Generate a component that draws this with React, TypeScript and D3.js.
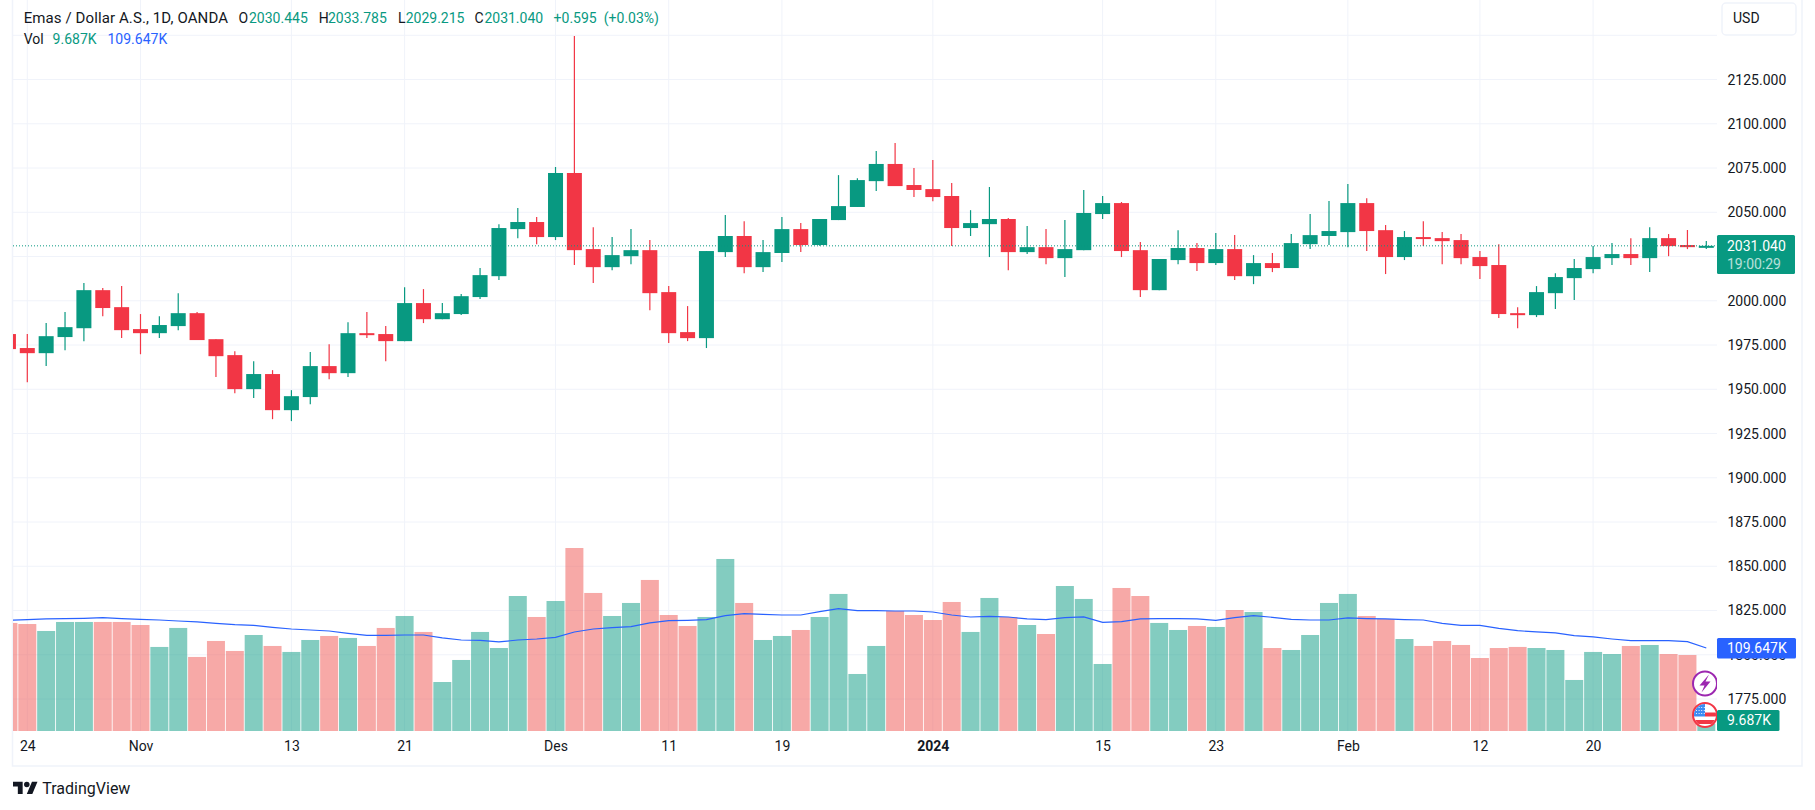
import { useEffect, useRef } from 'react'
import * as d3 from 'd3'

const opens = [1981.2, 1973.3, 1970.4, 1979.5, 1984.5, 2006.0, 1996.4, 1984.0, 1981.7, 1985.7, 1993.0, 1978.3, 1969.3, 1950.1, 1958.6, 1938.2, 1945.6, 1963.1, 1959.1, 1981.7, 1981.2, 1977.2, 1998.7, 1989.6, 1992.5, 2002.1, 2013.9, 2040.5, 2044.5, 2036.0, 2072.2, 2029.2, 2019.0, 2025.2, 2028.6, 2004.9, 1982.3, 1978.9, 2027.5, 2036.6, 2019.0, 2027.0, 2040.5, 2031.5, 2045.6, 2053.0, 2067.6, 2077.3, 2065.4, 2063.1, 2059.2, 2041.1, 2043.3, 2046.2, 2027.5, 2030.3, 2024.1, 2028.6, 2049.0, 2055.2, 2028.6, 2006.0, 2023.0, 2029.8, 2021.3, 2029.2, 2013.9, 2021.3, 2018.5, 2032.0, 2036.6, 2038.8, 2055.2, 2039.9, 2024.7, 2036.0, 2035.4, 2034.3, 2024.7, 2020.2, 1993.0, 1991.9, 2004.3, 2012.8, 2017.9, 2024.1, 2026.4, 2024.1, 2035.4, 2031.5, 2030.445]
const highs = [1983.0, 1981.2, 1987.4, 1993.6, 2010.0, 2007.2, 2008.3, 1992.5, 1991.3, 2004.3, 1993.6, 1978.3, 1971.5, 1965.9, 1960.8, 1949.5, 1971.0, 1975.5, 1987.9, 1993.6, 1985.7, 2007.7, 2006.6, 1998.7, 2003.8, 2018.5, 2043.3, 2052.4, 2047.3, 2075.6, 2149.6, 2041.6, 2036.0, 2040.5, 2034.3, 2008.3, 1997.0, 2028.1, 2048.4, 2045.0, 2034.3, 2047.3, 2043.9, 2046.2, 2071.0, 2069.3, 2084.6, 2089.1, 2075.0, 2079.5, 2066.5, 2051.2, 2064.3, 2046.8, 2042.2, 2040.5, 2045.6, 2062.6, 2059.2, 2055.8, 2033.2, 2023.6, 2039.9, 2032.6, 2038.3, 2037.1, 2025.8, 2027.0, 2037.7, 2049.0, 2056.4, 2066.0, 2058.0, 2042.8, 2039.4, 2045.0, 2038.8, 2037.7, 2028.1, 2032.0, 1996.4, 2008.3, 2015.6, 2023.6, 2030.9, 2032.6, 2035.4, 2041.6, 2037.7, 2040.0, 2033.785]
const lows = [1970.0, 1954.0, 1963.1, 1972.1, 1977.2, 1991.3, 1978.9, 1969.8, 1978.9, 1983.4, 1977.8, 1956.9, 1947.8, 1945.0, 1933.1, 1932.0, 1941.6, 1955.7, 1956.9, 1978.9, 1965.9, 1977.2, 1987.4, 1989.6, 1991.9, 2001.0, 2011.7, 2035.4, 2032.0, 2034.3, 2020.2, 2010.0, 2017.3, 2020.7, 1994.7, 1976.1, 1977.2, 1973.3, 2024.7, 2015.6, 2016.2, 2021.9, 2027.5, 2031.1, 2045.6, 2053.0, 2062.0, 2064.8, 2058.6, 2056.3, 2030.9, 2036.6, 2024.7, 2017.3, 2026.4, 2020.7, 2013.4, 2028.6, 2046.2, 2024.7, 2002.1, 2006.0, 2020.7, 2016.8, 2020.2, 2011.7, 2009.4, 2016.2, 2018.5, 2029.2, 2031.5, 2030.3, 2028.1, 2015.1, 2023.0, 2030.9, 2020.7, 2020.7, 2012.3, 1990.2, 1984.5, 1990.8, 1995.3, 2000.4, 2015.6, 2020.2, 2020.2, 2016.2, 2025.2, 2029.2, 2029.215]
const closes = [1972.7, 1970.4, 1980.0, 1985.1, 2006.0, 1995.9, 1983.4, 1981.7, 1986.3, 1993.0, 1977.8, 1968.7, 1950.1, 1958.6, 1938.2, 1946.1, 1963.1, 1959.1, 1981.7, 1980.6, 1977.2, 1998.7, 1989.6, 1993.0, 2002.6, 2014.5, 2041.1, 2044.5, 2036.0, 2072.2, 2028.6, 2019.0, 2025.8, 2028.6, 2004.3, 1981.7, 1978.9, 2028.1, 2036.6, 2019.0, 2027.5, 2040.5, 2031.5, 2046.2, 2053.5, 2068.2, 2077.3, 2064.8, 2062.6, 2058.6, 2041.1, 2043.9, 2046.2, 2027.5, 2030.3, 2024.1, 2029.2, 2049.6, 2055.2, 2028.1, 2006.0, 2023.6, 2029.8, 2021.3, 2029.2, 2013.9, 2021.3, 2018.5, 2032.6, 2037.1, 2039.4, 2055.2, 2039.4, 2024.7, 2036.0, 2034.9, 2033.7, 2024.1, 2019.6, 1992.5, 1991.9, 2004.9, 2013.4, 2018.5, 2024.7, 2026.4, 2024.1, 2035.4, 2030.9, 2030.3, 2031.04]

// volume and its moving average, in thousands
const volumes = [142.7, 141.3, 132.1, 144.0, 144.0, 144.0, 144.0, 140.0, 111.0, 136.1, 97.8, 118.9, 105.7, 126.8, 112.3, 104.4, 120.2, 125.5, 122.9, 112.3, 136.1, 151.9, 130.8, 64.7, 93.8, 130.8, 109.6, 178.3, 150.6, 171.7, 241.7, 182.3, 151.9, 169.1, 199.5, 153.2, 138.7, 150.6, 227.2, 169.1, 120.2, 125.5, 133.4, 150.6, 181.0, 75.3, 112.3, 158.5, 153.2, 146.6, 170.4, 130.8, 175.7, 150.6, 140.0, 128.1, 191.5, 174.4, 88.5, 188.9, 178.3, 142.7, 133.4, 138.7, 137.4, 159.8, 157.2, 109.6, 107.0, 126.8, 169.1, 181.0, 151.9, 148.0, 121.5, 112.3, 118.9, 113.6, 96.4, 109.6, 111.0, 109.6, 107.0, 67.4, 104.4, 101.7, 112.3, 113.6, 101.7, 100.4, 9.687]
const volumeMa = [146.2, 147.1, 148.0, 148.4, 148.8, 149.7, 148.4, 147.5, 146.6, 145.3, 144.0, 142.2, 140.5, 139.6, 136.9, 134.7, 133.4, 132.1, 129.0, 126.4, 126.4, 126.8, 126.8, 122.9, 120.2, 119.8, 117.6, 120.2, 121.5, 123.7, 130.8, 134.7, 136.5, 137.8, 142.7, 145.8, 146.2, 147.1, 152.4, 155.0, 154.1, 153.2, 153.2, 157.6, 161.6, 159.0, 159.0, 158.5, 158.5, 157.2, 153.2, 150.6, 151.5, 150.6, 148.0, 147.1, 149.7, 150.6, 143.5, 144.4, 148.0, 148.4, 148.4, 148.0, 146.2, 149.7, 152.4, 150.2, 147.5, 146.6, 146.6, 149.3, 148.4, 148.0, 147.1, 146.6, 142.2, 139.6, 139.6, 135.6, 132.5, 130.8, 129.5, 125.9, 124.2, 121.5, 119.3, 119.3, 119.3, 118.0, 109.647]

// 2025 sits wholly behind the last price label, so it only gets a grid line
const priceTicks = [2125, 2100, 2075, 2050, 2000, 1975, 1950, 1925, 1900, 1875, 1850, 1825, 1800, 1775]
const gridPrices = [2150, 2125, 2100, 2075, 2050, 2025, 2000, 1975, 1950, 1925, 1900, 1875, 1850, 1825, 1800, 1775]
const timeIndex = [1, 7, 15, 21, 29, 35, 41, 49, 58, 64, 71, 78, 84]
const timeLabels = ['24', 'Nov', '13', '21', 'Des', '11', '19', '2024', '15', '23', 'Feb', '12', '20']

const lastPrice = 2031.04
const green = '#089981'
const red = '#f23645'
const blue = '#2962ff'
const gridColor = '#f0f3fa'
const textColor = '#131722'
const font = 'Roboto, sans-serif'

const paneLeft = 13
const paneRight = 1717
const paneBottom = 731

export default function App() {
  const svgRef = useRef<SVGSVGElement>(null)

  useEffect(() => {
    if (!svgRef.current) return
    const svg = d3.select(svgRef.current)
    svg.selectAll('*').remove()

    const x = d3.scaleLinear().domain([1, 90]).range([27.3, 1706.3])
    const y = d3.scaleLinear().domain([2150, 1775]).range([35.3, 699])
    const yVol = d3.scaleLinear().domain([0, 241.7]).range([paneBottom, 548])

    const defs = svg.append('defs')
    defs.append('clipPath').attr('id', 'pane')
      .append('rect')
      .attr('x', paneLeft).attr('y', 0)
      .attr('width', paneRight - paneLeft).attr('height', paneBottom)
    defs.append('clipPath').attr('id', 'flag')
      .append('circle').attr('cx', 1705).attr('cy', 715).attr('r', 11)

    // Grid
    const grid = svg.append('g').attr('clip-path', 'url(#pane)')
    grid.selectAll('line.h').data(gridPrices).join('line')
      .attr('class', 'h')
      .attr('x1', paneLeft).attr('x2', paneRight)
      .attr('y1', d => y(d)).attr('y2', d => y(d))
      .attr('stroke', gridColor).attr('stroke-width', 1)
    grid.selectAll('line.v').data(timeIndex).join('line')
      .attr('class', 'v')
      .attr('x1', d => x(d)).attr('x2', d => x(d))
      .attr('y1', 0).attr('y2', paneBottom)
      .attr('stroke', gridColor).attr('stroke-width', 1)

    // Frame
    svg.append('path')
      .attr('d', `M${paneLeft - 0.5},0V766H1802V0`)
      .attr('fill', 'none')
      .attr('stroke', gridColor)
      .attr('stroke-width', 1.5)

    const pane = svg.append('g').attr('clip-path', 'url(#pane)')

    // Volume bars
    pane.selectAll('rect.vol').data(volumes).join('rect')
      .attr('class', 'vol')
      .attr('x', (_, i) => x(i) - 9)
      .attr('width', 18)
      .attr('y', d => yVol(d))
      .attr('height', d => paneBottom - yVol(d))
      .attr('fill', (_, i) => (closes[i] >= opens[i] ? green : '#ef5350'))
      .attr('opacity', 0.5)

    // Wicks and bodies
    pane.selectAll('line.wick').data(highs).join('line')
      .attr('class', 'wick')
      .attr('x1', (_, i) => x(i)).attr('x2', (_, i) => x(i))
      .attr('y1', d => y(d)).attr('y2', (_, i) => y(lows[i]))
      .attr('stroke', (_, i) => (closes[i] >= opens[i] ? green : red))
      .attr('stroke-width', 1.2)
    pane.selectAll('rect.body').data(opens).join('rect')
      .attr('class', 'body')
      .attr('x', (_, i) => x(i) - 7.5)
      .attr('width', 15)
      .attr('y', (d, i) => y(Math.max(d, closes[i])))
      .attr('height', (d, i) => Math.max(2, Math.abs(y(d) - y(closes[i]))))
      .attr('fill', (_, i) => (closes[i] >= opens[i] ? green : red))

    // Volume moving average
    const maLine = d3.line<number>()
      .x((_, i) => x(i))
      .y(d => yVol(d))
    pane.append('path')
      .datum(volumeMa)
      .attr('d', maLine)
      .attr('fill', 'none')
      .attr('stroke', blue)
      .attr('stroke-width', 1.2)

    // Last price line
    pane.append('line')
      .attr('x1', paneLeft).attr('x2', paneRight)
      .attr('y1', y(lastPrice)).attr('y2', y(lastPrice))
      .attr('stroke', green)
      .attr('stroke-width', 1)
      .attr('stroke-dasharray', '1 2')

    // Event icons
    const bolt = pane.append('g')
    bolt.append('circle')
      .attr('cx', 1705).attr('cy', 683.5).attr('r', 12)
      .attr('fill', '#fff').attr('stroke', '#9c27b0').attr('stroke-width', 2)
    bolt.append('path')
      .attr('d', 'M1709,674.5L1699.5,685.5H1704.5L1701.5,692.5L1710.5,681.5H1705.5Z')
      .attr('fill', '#9c27b0')

    const flag = pane.append('g')
    flag.append('circle')
      .attr('cx', 1705).attr('cy', 715).attr('r', 12)
      .attr('fill', '#fff').attr('stroke', red).attr('stroke-width', 2)
    const flagInner = flag.append('g').attr('clip-path', 'url(#flag)')
    flagInner.append('rect').attr('x', 1694).attr('y', 720).attr('width', 22).attr('height', 4).attr('fill', red)
    flagInner.append('rect').attr('x', 1705).attr('y', 712.5).attr('width', 11).attr('height', 4).attr('fill', red)
    flagInner.append('rect').attr('x', 1694).attr('y', 704).attr('width', 11).attr('height', 12.5).attr('fill', '#3d8bf2')
    flagInner.selectAll('circle.star').data(d3.range(12)).join('circle')
      .attr('class', 'star')
      .attr('cx', d => 1696.5 + (d % 4) * 2.6)
      .attr('cy', d => 707.5 + Math.floor(d / 4) * 3)
      .attr('r', 0.6)
      .attr('fill', '#fff')

    // Price axis
    const yAxis = d3.axisRight(y)
      .tickValues(priceTicks)
      .tickFormat(d => d3.format('.3f')(d as number))
      .tickSize(0)
      .tickPadding(0)
    const yAxisG = svg.append('g')
      .attr('transform', 'translate(1727.5,0)')
      .call(yAxis)
    yAxisG.select('.domain').remove()
    yAxisG.selectAll('text')
      .style('font-family', font)
      .style('font-size', '14px')
      .style('fill', textColor)

    // Time axis
    const xAxis = d3.axisBottom(x)
      .tickValues(timeIndex)
      .tickFormat((_, i) => timeLabels[i])
      .tickSize(0)
      .tickPadding(0)
    const xAxisG = svg.append('g')
      .attr('transform', 'translate(0,741.5)')
      .call(xAxis)
    xAxisG.select('.domain').remove()
    xAxisG.selectAll('text')
      .style('font-family', font)
      .style('font-size', '14px')
      .style('font-weight', (_, i) => (timeLabels[i] === '2024' ? 700 : 400))
      .style('fill', textColor)

    // Axis value labels
    const addLabel = (
      left: number,
      top: number,
      width: number,
      height: number,
      fill: string
    ) => {
      svg.append('rect')
        .attr('x', left).attr('y', top)
        .attr('width', width).attr('height', height)
        .attr('fill', fill).attr('rx', 1.5)
    }
    const addText = (
      left: number,
      mid: number,
      str: string,
      fill: string,
      extra?: { size?: number; opacity?: number; spacing?: number }
    ) => {
      svg.append('text')
        .attr('x', left).attr('y', mid)
        .attr('dy', '0.35em')
        .attr('opacity', extra?.opacity ?? 1)
        .style('font-family', font)
        .style('font-size', `${extra?.size ?? 14}px`)
        .style('letter-spacing', `${extra?.spacing ?? 0}px`)
        .style('fill', fill)
        .text(str)
    }

    addLabel(1717, 235, 78, 39, green)
    addText(1727, 245.7, '2031.040', '#fff')
    addText(1727, 263.7, '19:00:29', '#fff', { opacity: 0.7 })
    addLabel(1717, 638, 79, 20.5, blue)
    addText(1727, 648.5, '109.647K', '#fff')
    addLabel(1717, 710, 62.5, 21, green)
    addText(1727, 720.5, '9.687K', '#fff')

    // USD button
    svg.append('rect')
      .attr('x', 1722).attr('y', 3)
      .attr('width', 74).attr('height', 32)
      .attr('rx', 4)
      .attr('fill', '#fff')
      .attr('stroke', gridColor)
      .attr('stroke-width', 1.5)
    addText(1733, 18.5, 'USD', textColor)

    // Legend
    addText(23.7, 18, 'Emas / Dollar A.S., 1D, OANDA', textColor, { size: 15, spacing: 0.1 })
    addText(238.4, 18, 'O', textColor)
    addText(249, 18, '2030.445', green)
    addText(318.7, 18, 'H', textColor)
    addText(328, 18, '2033.785', green)
    addText(398, 18, 'L', textColor)
    addText(405.7, 18, '2029.215', green)
    addText(474.5, 18, 'C', textColor)
    addText(484.4, 18, '2031.040', green)
    addText(553.6, 18, '+0.595', green)
    addText(603.8, 18, '(+0.03%)', green)
    addText(23.7, 38.7, 'Vol', textColor)
    addText(52.6, 38.7, '9.687K', green)
    addText(107.5, 38.7, '109.647K', blue)

    // TradingView mark
    const logo = svg.append('g')
      .attr('transform', 'translate(13,778.9) scale(0.69)')
      .attr('fill', textColor)
    logo.append('path').attr('d', 'M14 22H7V11H0V4h14v18zM28 22h-8l7.5-18h8L28 22z')
    logo.append('circle').attr('cx', 20).attr('cy', 8).attr('r', 4)
    addText(42.3, 788, 'TradingView', textColor, { size: 16 })
  }, [])

  return (
    <svg
      ref={svgRef}
      width={1815}
      height={810}
      style={{ position: 'absolute', left: 0, top: 0, background: '#fff' }}
    />
  )
}
